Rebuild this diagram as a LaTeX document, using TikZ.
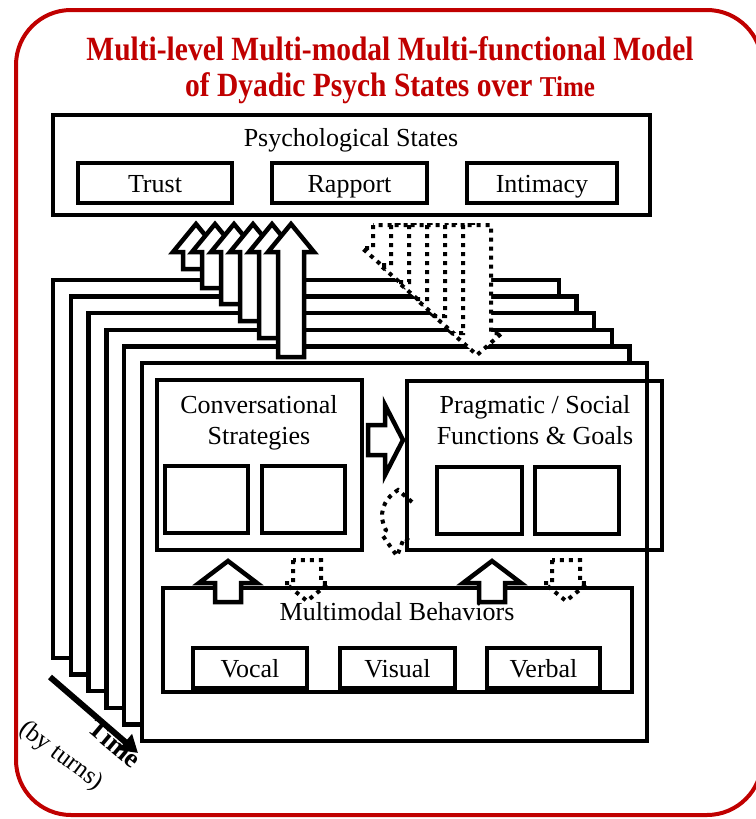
\documentclass[tikz,border=0pt]{standalone}
\usepackage{fontspec}
\setmainfont{Liberation Serif}
\usetikzlibrary{arrows.meta}
\definecolor{titlered}{RGB}{192,0,0}

% rectangle node given by its corners: [style]{name}{x1}{y1}{x2}{y2}
\newcommand\rbox[6][]{%
  \node[#1, minimum width={(#5)-(#3)}, minimum height={(#6)-(#4)}]
    (#2) at ({((#3)+(#5))/2},{((#4)+(#6))/2}) {};}
% upward block arrow: [style]{cx}{bottom}{head base}{tip}{shaft half}{head half}
\newcommand\upblock[7][]{%
  \draw[#1] ({#2-#6},#3) -- ({#2-#6},#4) -- ({#2-#7},#4) -- (#2,#5)
    -- ({#2+#7},#4) -- ({#2+#6},#4) -- ({#2+#6},#3) -- cycle;}
% downward block arrow: [style]{cx}{top}{head base}{tip}{shaft half}{head half}
\newcommand\downblock[7][]{%
  \draw[#1] ({#2-#6},#3) -- ({#2-#6},#4) -- ({#2-#7},#4) -- (#2,#5)
    -- ({#2+#7},#4) -- ({#2+#6},#4) -- ({#2+#6},#3) -- cycle;}
% title lines are set a little taller than wide
\newcommand\tall[1]{\scalebox{1}[1.15]{#1}}

\begin{document}
\begin{tikzpicture}[x=1pt,y=-1pt,
  box/.style={draw, line width=4.5pt, fill=white, inner sep=0pt},
  openbox/.style={draw, line width=4.5pt, inner sep=0pt},
  lbl/.style={font=\fontsize{26}{30}\selectfont, anchor=base, inner sep=0pt},
  blockarrow/.style={draw, line width=4.5pt, fill=white, line join=miter},
  dotarrow/.style={draw, line width=4pt, dash pattern=on 4pt off 5pt, fill=white},
  dotcurve/.style={draw, line width=4pt, dash pattern=on 4pt off 5pt},
  titletext/.style={font=\bfseries\fontsize{29.5}{34}\selectfont, text=titlered, anchor=base, inner sep=0pt}
]
\useasboundingbox (0,0) rectangle (755,819);

% outer red frame
\draw[titlered, line width=4pt, rounded corners=55pt] (16,10) rectangle (762,815);

% title
\node[titletext] (title1) at (390,60) {\tall{Multi-level Multi-modal Multi-functional Model}};
\node[titletext] (title2) at (390,96) {\tall{of Dyadic Psych States over {\fontsize{25}{30}\selectfont Time}}};

% psychological states
\rbox[box]{psych}{53}{115}{650}{215}
\node[lbl] (psychlbl) at (351,146) {Psychological States};
\rbox[box]{trust}{78}{163}{232}{203}
\rbox[box]{rapport}{272}{163}{427}{203}
\rbox[box]{intimacy}{467}{163}{617}{203}
\node[lbl] at (155,192) {Trust};
\node[lbl] at (349.5,192) {Rapport};
\node[lbl] at (542,192) {Intimacy};

% stack of turns, back to front
\foreach \i in {0,...,5}{
  \pgfmathsetmacro\fl{53+17.8*\i}
  \pgfmathsetmacro\ft{280+16.6*\i}
  \pgfmathsetmacro\fr{559+17.6*\i}
  \pgfmathsetmacro\fb{658+16.6*\i}
  \rbox[box]{frame\i}{\fl}{\ft}{\fr}{\fb}
}

% upward arrows from each turn to the states
\foreach \cx/\bt in {196/269, 215/288, 234/304, 253/321, 272/338, 291/357}{
  \upblock[blockarrow]{\cx}{\bt}{252}{224}{13}{23}
}

% dotted downward arrows from the states to each turn
\foreach \k in {0,...,5}{
  \pgfmathsetmacro\dcx{387+18*\k}
  \pgfmathsetmacro\dhb{248+17*\k}
  \pgfmathsetmacro\dtp{270+17*\k}
  \downblock[dotarrow]{\dcx}{225}{\dhb}{\dtp}{14}{25}
}

% conversational strategies
\rbox[openbox]{cs}{157}{380}{362}{550}
\node[lbl] at (259,413) {Conversational};
\node[lbl] at (259,444) {Strategies};
\rbox[openbox]{csa}{165}{466}{248}{533}
\rbox[openbox]{csb}{262}{466}{345}{533}

% pragmatic / social functions
\rbox[openbox]{pf}{407}{381}{662}{550}
\node[lbl] at (535,413) {Pragmatic / Social};
\node[lbl] at (535,444) {Functions \& Goals};
\rbox[openbox]{pfa}{437}{467}{522}{534}
\rbox[openbox]{pfb}{535}{467}{619}{534}

% strategies -> functions
\draw[blockarrow] (368,425) -- (385,425) -- (385,405) -- (403,440)
  -- (385,475) -- (385,455) -- (368,455) -- cycle;
% functions -> strategies (dotted, curved)
\draw[dotcurve] (412,502) -- (398,490) .. controls (382,500) and (378,516) .. (386,530)
  -- (383,536) -- (397,556) -- (404,538) -- (412,542);

% multimodal behaviors
\rbox[openbox]{mb}{163}{588}{632}{692}
\node[lbl] at (397,620) {Multimodal Behaviors};
\rbox[box]{vocal}{193}{648}{307}{688}
\rbox[box]{visual}{340}{648}{455}{688}
\rbox[box]{verbal}{487}{648}{600}{688}
\node[lbl] at (250,677) {Vocal};
\node[lbl] at (397.5,677) {Visual};
\node[lbl] at (543.5,677) {Verbal};

% behaviors <-> strategies / functions
\upblock[blockarrow]{228}{602}{583}{561}{13}{29}
\upblock[blockarrow]{492}{602}{583}{561}{13}{29}
\downblock[dotcurve]{307}{560}{583}{601}{14}{22}
\downblock[dotcurve]{566}{560}{583}{601}{14}{22}

% time axis
\coordinate (tstart) at (50,677);
\coordinate (tend) at (138,753);
\draw[line width=6pt, -{Triangle[length=17pt,width=20pt]}] (tstart) -- (tend);
\node[font=\bfseries\fontsize{27}{32}\selectfont, rotate=-40, inner sep=0pt] (timelbl) at (115,743) {Time};
\node[font=\fontsize{25}{30}\selectfont, rotate=-37, inner sep=0pt] (turnslbl) at (61,756) {(by turns)};
\end{tikzpicture}
\end{document}
